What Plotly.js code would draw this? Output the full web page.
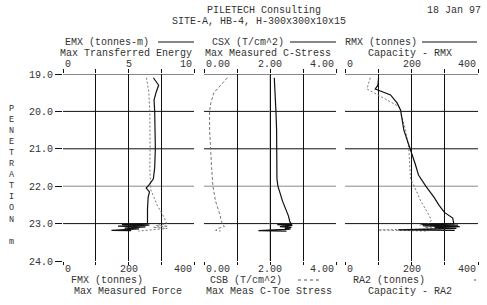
<!DOCTYPE html>
<html><head><meta charset="utf-8">
<script src="https://cdn.plot.ly/plotly-3.0.1.min.js"></script>
<style>html,body{margin:0;padding:0;background:#fff}#chart{width:487px;height:305px}</style>
</head><body><div id="chart"></div>
<script>
// ---- data (depth in m) ----
const emxDepth = [19.1,19.3,19.5,19.7,20.0,20.5,21.0,21.5,21.8,21.95,22.05,22.15,22.3,22.6,23.0,23.03,23.04,23.07,23.09,23.12,23.14,23.18,23.19];
const emxVal   = [6.9,7.3,7.1,6.95,7.0,7.05,7.05,7.0,6.9,6.6,6.35,6.6,6.5,6.45,6.45,4.5,6.6,4.2,6.3,4.7,5.8,3.7,5.2];
const fmxDepth = [19.1,19.5,20.0,20.5,21.0,21.5,22.0,22.1,22.3,22.5,22.7,22.85,23.0,23.05,23.07,23.1,23.13,23.17,23.2];
const fmxVal   = [255,262,265,266,266,265,266,268,278,287,300,310,316,285,320,275,318,270,230];
const csxDepth = [19.1,19.5,20.0,20.5,21.0,21.5,21.8,22.0,22.2,22.4,22.6,22.8,22.95,23.02,23.03,23.05,23.08,23.1,23.13,23.15,23.19,23.2];
const csxVal   = [2.13,2.16,2.18,2.2,2.2,2.2,2.21,2.24,2.3,2.38,2.47,2.56,2.6,2.66,2.22,2.68,2.3,2.65,2.45,2.62,1.65,2.5];
const csbDepth = [19.1,19.3,19.5,19.8,20.0,20.5,21.0,21.5,22.0,22.4,22.7,23.0,23.08,23.12,23.18,23.2];
const csbVal   = [0.71,0.5,0.3,0.2,0.17,0.17,0.19,0.23,0.27,0.35,0.46,0.55,0.62,0.45,0.35,0.5];
const rmxDepth = [19.1,19.3,19.4,19.56,19.78,19.96,20.5,21.0,21.4,21.7,22.0,22.3,22.5,22.7,22.85,23.0,23.02,23.04,23.06,23.08,23.1,23.13,23.17,23.18];
const rmxVal   = [101,99,91,137,157,167,177,197,211,221,243,268,282,299,324,327,230,340,235,345,270,335,160,330];
const ra2Depth = [19.1,19.4,19.87,20.0,20.5,21.0,21.5,21.8,22.0,22.4,22.7,22.9,23.0,23.04,23.06,23.1,23.14,23.17,23.2];
const ra2Val   = [76,66,162,167,182,192,195,197,208,228,248,260,253,225,300,240,290,100,250];

const depthTicks = [19,20,21,22,23,24];
const gridDepths = [19,20,21,22,23];
const topTicks1 = [0,5,10], topTicks2 = [0,2,4], topTicks3 = [0,200,400];
const botTicks1 = [0,200,400], botTicks2 = [0,2,4], botTicks3 = [0,200,400];

// ---- layout helpers ----
const W=487,H=305;
const fx = p => p/W, fy = p => 1-p/H;
const P1=[63,194], P2=[204,336], P3=[345,478];
const yDom=[fy(261), fy(74)];
const FONT = {family:'Liberation Mono, monospace', size:10, color:'#333'};

const solid = {color:'#111', width:1.2};
const dotted = {color:'#777', width:1, dash:'2px,2px'};

const traces = [
  {x:fmxVal, y:fmxDepth, xaxis:'x',  yaxis:'y', mode:'lines', line:dotted},
  {x:emxVal, y:emxDepth, xaxis:'x2', yaxis:'y', mode:'lines', line:solid},
  {x:csbVal, y:csbDepth, xaxis:'x3', yaxis:'y', mode:'lines', line:{color:'#777',width:1,dash:'3px,2px'}},
  {x:csxVal, y:csxDepth, xaxis:'x4', yaxis:'y', mode:'lines', line:solid},
  {x:ra2Val, y:ra2Depth, xaxis:'x5', yaxis:'y', mode:'lines', line:dotted},
  {x:rmxVal, y:rmxDepth, xaxis:'x6', yaxis:'y', mode:'lines', line:solid},
];

function botAx(dom, range, dtick){
  return {domain:[fx(dom[0]),fx(dom[1])], range:range, anchor:'y', side:'bottom',
    showgrid:true, gridcolor:'#111', gridwidth:1, dtick:dtick, tick0:0,
    ticks:'outside', ticklen:3, tickcolor:'#111', showticklabels:false,
    zeroline:false, showline:false, fixedrange:true};
}
function topAx(over, range, dtick){
  return {overlaying:over, range:range, anchor:'y', side:'top',
    showgrid:false, dtick:dtick, tick0:0, ticks:'outside', ticklen:4, tickcolor:'#111',
    showticklabels:false, zeroline:false, showline:false, fixedrange:true};
}

const shapes = [];
// horizontal grid lines (none at 24.0)
['x','x3','x5'].forEach(ax=>{
  gridDepths.forEach(d=>{
    shapes.push({type:'line', xref:ax+' domain', x0:0, x1:1, yref:'y', y0:d, y1:d,
      line:{color: d===22 ? '#8a8a8a' : '#111', width:1}, layer:'below'});
  });
});
// lighter mid line in middle panel
shapes.push({type:'line', xref:'x3', x0:2, x1:2, yref:'y domain', y0:0, y1:1, line:{color:'#9a9a9a', width:1}, layer:'below'});
// legend samples
function hl(x0,x1,y,dash,color){shapes.push({type:'line', xref:'paper', yref:'paper', x0:fx(x0), x1:fx(x1), y0:fy(y), y1:fy(y), line:{color:color||'#111', width:1, dash:dash||'solid'}});}
hl(158,194,42); hl(290,336,42); hl(422,477,42);
hl(298,322,280,'3px,3px','#555'); hl(474,476,280,'solid','#555');

const ann = [];
function txt(t,x,y,anchor,size){ann.push({text:t, xref:'paper', yref:'paper', x:fx(x), y:fy(y), xanchor:anchor||'center', yanchor:'middle', showarrow:false, font:Object.assign({},FONT, size?{size:size}:{})});}
txt('PILETECH Consulting',264,10);
txt('18 Jan 97',483,10,'right');
txt('SITE-A, HB-4, H-300x300x10x15',259,22);
txt('EMX (tonnes-m)',107,42);
txt('CSX (T/cm^2)',248,42);
txt('RMX (tonnes)',381,42);
txt('Max Transferred Energy',126,53);
txt('Max Measured C-Stress',268,53);
txt('Capacity - RMX',410,53);
txt('FMX (tonnes)',107,280);
txt('CSB (T/cm^2)',246,280);
txt('RA2 (tonnes)',389,280);
txt('Max Measured Force',128,291);
txt('Max Meas C-Toe Stress',269,291);
txt('Capacity - RA2',410,291);
txt('P<br>E<br>N<br>E<br>T<br>R<br>A<br>T<br>I<br>O<br>N<br><br>m',12,175,'center',8.5);

function tickAnn(ax, vals, y, fmt){
  vals.forEach((v,i)=>{
    const anc = i===0 ? 'left' : (i===vals.length-1 ? 'right' : 'center');
    ann.push({text:fmt(v), xref:ax, yref:'paper', x:v, y:fy(y), xanchor:anc, yanchor:'middle', showarrow:false, font:FONT});
  });
}
const i0 = v=>String(v), f2 = v=>v.toFixed(2);
tickAnn('x2', topTicks1, 64, i0);
tickAnn('x4', topTicks2, 64, f2);
tickAnn('x6', topTicks3, 64, i0);
tickAnn('x',  botTicks1, 269, i0);
tickAnn('x3', botTicks2, 269, f2);
tickAnn('x5', botTicks3, 269, i0);

const layout = {
  width:W, height:H, margin:{l:0,r:0,t:0,b:0}, paper_bgcolor:'#fff', plot_bgcolor:'rgba(0,0,0,0)',
  showlegend:false, font:FONT,
  xaxis: botAx(P1,[0,400],100),
  xaxis2: topAx('x',[0,10],2.5),
  xaxis3: botAx(P2,[0,4],1),
  xaxis4: topAx('x3',[0,4],1),
  xaxis5: botAx(P3,[0,400],100),
  xaxis6: topAx('x5',[0,400],100),
  yaxis: {domain:yDom, range:[24,19], anchor:'x', tickvals:depthTicks,
    ticktext:depthTicks.map(v=>v.toFixed(1)), showgrid:false, zeroline:false, showline:false,
    ticks:'outside', ticklen:7, tickcolor:'#111', tickfont:FONT, fixedrange:true},
  shapes:shapes, annotations:ann
};
Plotly.newPlot('chart', traces, layout, {staticPlot:true, displayModeBar:false});
</script></body></html>
